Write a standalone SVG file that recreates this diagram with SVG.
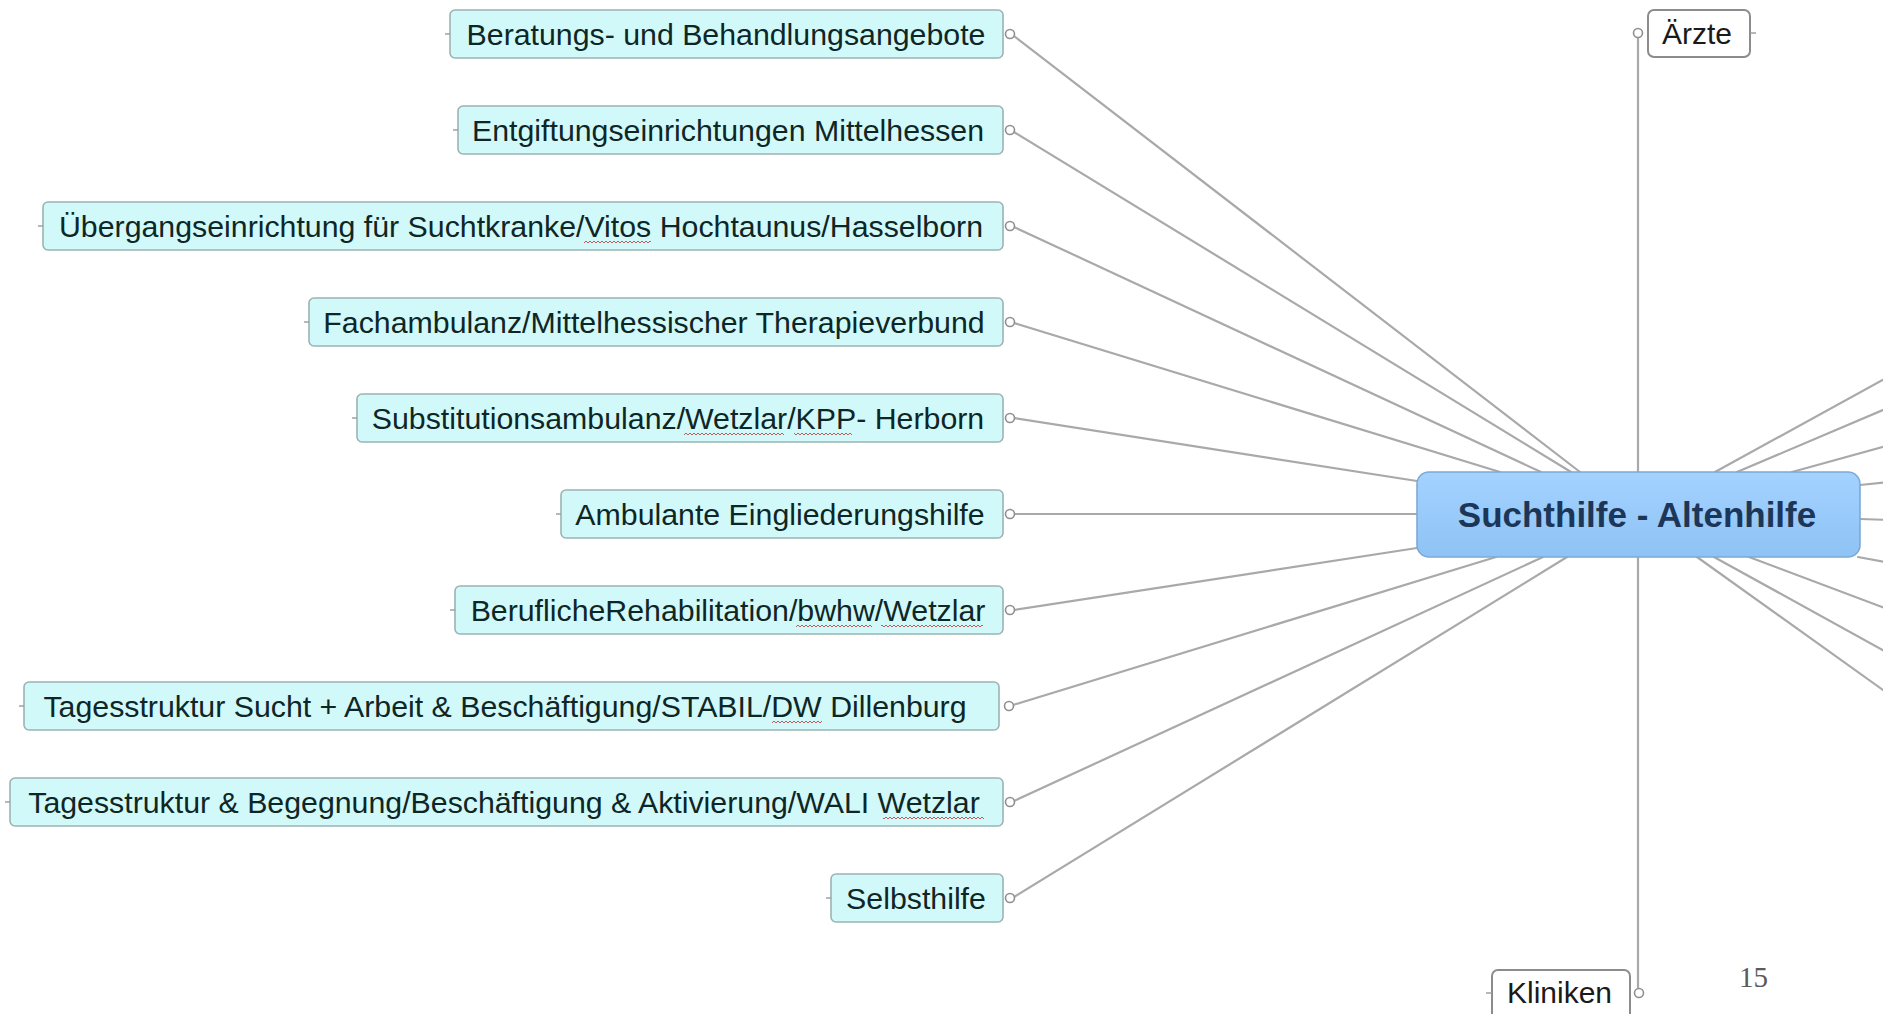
<svg xmlns="http://www.w3.org/2000/svg" width="1883" height="1014" viewBox="0 0 1883 1014">
<style>
  .leaf rect.box { fill: #d2f9f9; stroke: #9cb3b3; stroke-width: 1.6; }
  .leaf text { font-family: "Liberation Sans", Arial, sans-serif; font-size: 30.3px; fill: #0f2626; text-anchor: middle; }
  .plain rect.box { fill: #ffffff; stroke: #8c8c8c; stroke-width: 2; }
  .plain text { font-family: "Liberation Sans", Arial, sans-serif; font-size: 30px; fill: #1a1a1a; }
  .knob { fill: #ffffff; stroke: #8f8f8f; stroke-width: 1.6; }
  .stub { stroke: #9a9a9a; stroke-width: 1.4; }
  #connectors line { stroke: #a9a9a9; stroke-width: 2.2; stroke-linecap: round; }
  .squig { fill: url(#wave); }
</style>
<defs>
  <pattern id="wave" width="4" height="4" patternUnits="userSpaceOnUse">
    <path d="M0 3 L2 1 L4 3" fill="none" stroke="#c24a4a" stroke-width="0.9"/>
  </pattern>
  <linearGradient id="centerFill" x1="0" y1="0" x2="0" y2="1">
    <stop offset="0" stop-color="#a3d2ff"/>
    <stop offset="1" stop-color="#8ec3f5"/>
  </linearGradient>
</defs>
<rect width="1883" height="1014" fill="#ffffff"/>

<g id="connectors">
  <!-- left leaves to centre -->
  <line x1="1014" y1="36" x2="1580" y2="472"/>
  <line x1="1014" y1="132" x2="1571" y2="472"/>
  <line x1="1014" y1="227" x2="1541" y2="472"/>
  <line x1="1014" y1="323" x2="1500" y2="472"/>
  <line x1="1014" y1="418" x2="1417" y2="481"/>
  <line x1="1014" y1="514" x2="1417" y2="514"/>
  <line x1="1014" y1="610" x2="1417" y2="548"/>
  <line x1="1013" y1="705" x2="1496" y2="557"/>
  <line x1="1014" y1="801" x2="1543" y2="557"/>
  <line x1="1014" y1="897" x2="1567" y2="557"/>
  <!-- vertical axis -->
  <line x1="1638" y1="37" x2="1638" y2="472"/>
  <line x1="1638" y1="557" x2="1638" y2="989"/>
  <!-- right side (nodes outside the picture) -->
  <line x1="1715" y1="472" x2="1890" y2="376"/>
  <line x1="1737" y1="472" x2="1890" y2="407"/>
  <line x1="1792" y1="472" x2="1890" y2="445"/>
  <line x1="1860" y1="485" x2="1890" y2="482"/>
  <line x1="1860" y1="519" x2="1890" y2="520"/>
  <line x1="1858" y1="557" x2="1890" y2="563"/>
  <line x1="1749" y1="557" x2="1890" y2="610"/>
  <line x1="1714" y1="557" x2="1890" y2="654"/>
  <line x1="1697" y1="557" x2="1890" y2="695"/>
</g>

<g id="node-center">
  <rect x="1417" y="472" width="443" height="85" rx="12" fill="url(#centerFill)" stroke="#7ea9d6" stroke-width="1.6"/>
  <text x="1637" y="527" font-family="'Liberation Sans', Arial, sans-serif" font-size="35" font-weight="bold" fill="#1d3658" text-anchor="middle">Suchthilfe - Altenhilfe</text>
</g>

<g id="node-1" class="leaf">
  <rect class="box" x="450" y="10" width="553" height="48" rx="5"/>
  <line class="stub" x1="445" y1="34" x2="450" y2="34"/>
  <text x="726" y="45">Beratungs- und Behandlungsangebote</text>
  <circle class="knob" cx="1010" cy="34" r="4.5"/>
</g>
<g id="node-2" class="leaf">
  <rect class="box" x="458" y="106" width="545" height="48" rx="5"/>
  <line class="stub" x1="453" y1="130" x2="458" y2="130"/>
  <text x="728" y="141">Entgiftungseinrichtungen Mittelhessen</text>
  <circle class="knob" cx="1010" cy="130" r="4.5"/>
</g>
<g id="node-3" class="leaf">
  <rect class="box" x="43" y="202" width="960" height="48" rx="5"/>
  <line class="stub" x1="38" y1="226" x2="43" y2="226"/>
  <text x="521" y="237">Übergangseinrichtung für Suchtkranke/Vitos Hochtaunus/Hasselborn</text>
  <rect class="squig" x="584" y="240" width="67" height="4"/>
  <circle class="knob" cx="1010" cy="226" r="4.5"/>
</g>
<g id="node-4" class="leaf">
  <rect class="box" x="309" y="298" width="694" height="48" rx="5"/>
  <line class="stub" x1="304" y1="322" x2="309" y2="322"/>
  <text x="654" y="333">Fachambulanz/Mittelhessischer Therapieverbund</text>
  <circle class="knob" cx="1010" cy="322" r="4.5"/>
</g>
<g id="node-5" class="leaf">
  <rect class="box" x="357" y="394" width="646" height="48" rx="5"/>
  <line class="stub" x1="352" y1="418" x2="357" y2="418"/>
  <text x="678" y="429">Substitutionsambulanz/Wetzlar/KPP- Herborn</text>
  <rect class="squig" x="684" y="432" width="100" height="4"/>
  <rect class="squig" x="794" y="432" width="58" height="4"/>
  <circle class="knob" cx="1010" cy="418" r="4.5"/>
</g>
<g id="node-6" class="leaf">
  <rect class="box" x="561" y="490" width="442" height="48" rx="5"/>
  <line class="stub" x1="556" y1="514" x2="561" y2="514"/>
  <text x="780" y="525">Ambulante Eingliederungshilfe</text>
  <circle class="knob" cx="1010" cy="514" r="4.5"/>
</g>
<g id="node-7" class="leaf">
  <rect class="box" x="455" y="586" width="548" height="48" rx="5"/>
  <line class="stub" x1="450" y1="610" x2="455" y2="610"/>
  <text x="728" y="621">BeruflicheRehabilitation/bwhw/Wetzlar</text>
  <rect class="squig" x="796" y="624" width="76" height="4"/>
  <rect class="squig" x="881" y="624" width="102" height="4"/>
  <circle class="knob" cx="1010" cy="610" r="4.5"/>
</g>
<g id="node-8" class="leaf">
  <rect class="box" x="24" y="682" width="975" height="48" rx="5"/>
  <line class="stub" x1="19" y1="706" x2="24" y2="706"/>
  <text x="505" y="717">Tagesstruktur Sucht + Arbeit &amp; Beschäftigung/STABIL/DW Dillenburg</text>
  <rect class="squig" x="772" y="720" width="50" height="4"/>
  <circle class="knob" cx="1009" cy="706" r="4.5"/>
</g>
<g id="node-9" class="leaf">
  <rect class="box" x="10" y="778" width="993" height="48" rx="5"/>
  <line class="stub" x1="5" y1="802" x2="10" y2="802"/>
  <text x="504" y="813">Tagesstruktur &amp; Begegnung/Beschäftigung &amp; Aktivierung/WALI Wetzlar</text>
  <rect class="squig" x="883" y="816" width="101" height="4"/>
  <circle class="knob" cx="1010" cy="802" r="4.5"/>
</g>
<g id="node-10" class="leaf">
  <rect class="box" x="831" y="874" width="172" height="48" rx="5"/>
  <line class="stub" x1="826" y1="898" x2="831" y2="898"/>
  <text x="916" y="909">Selbsthilfe</text>
  <circle class="knob" cx="1010" cy="898" r="4.5"/>
</g>

<g id="node-aerzte" class="plain">
  <rect class="box" x="1648" y="10" width="102" height="47" rx="6"/>
  <line class="stub" x1="1750" y1="33" x2="1756" y2="33"/>
  <text x="1662" y="44">Ärzte</text>
  <circle class="knob" cx="1638" cy="33" r="4.5"/>
</g>
<g id="node-kliniken" class="plain">
  <rect class="box" x="1492" y="970" width="138" height="60" rx="6"/>
  <line class="stub" x1="1486" y1="993" x2="1492" y2="993"/>
  <text x="1507" y="1003">Kliniken</text>
  <circle class="knob" cx="1639" cy="993" r="4.5"/>
</g>

<text x="1739" y="987" font-family="'Liberation Serif', 'Times New Roman', serif" font-size="29" fill="#5a5a5a">15</text>
</svg>
